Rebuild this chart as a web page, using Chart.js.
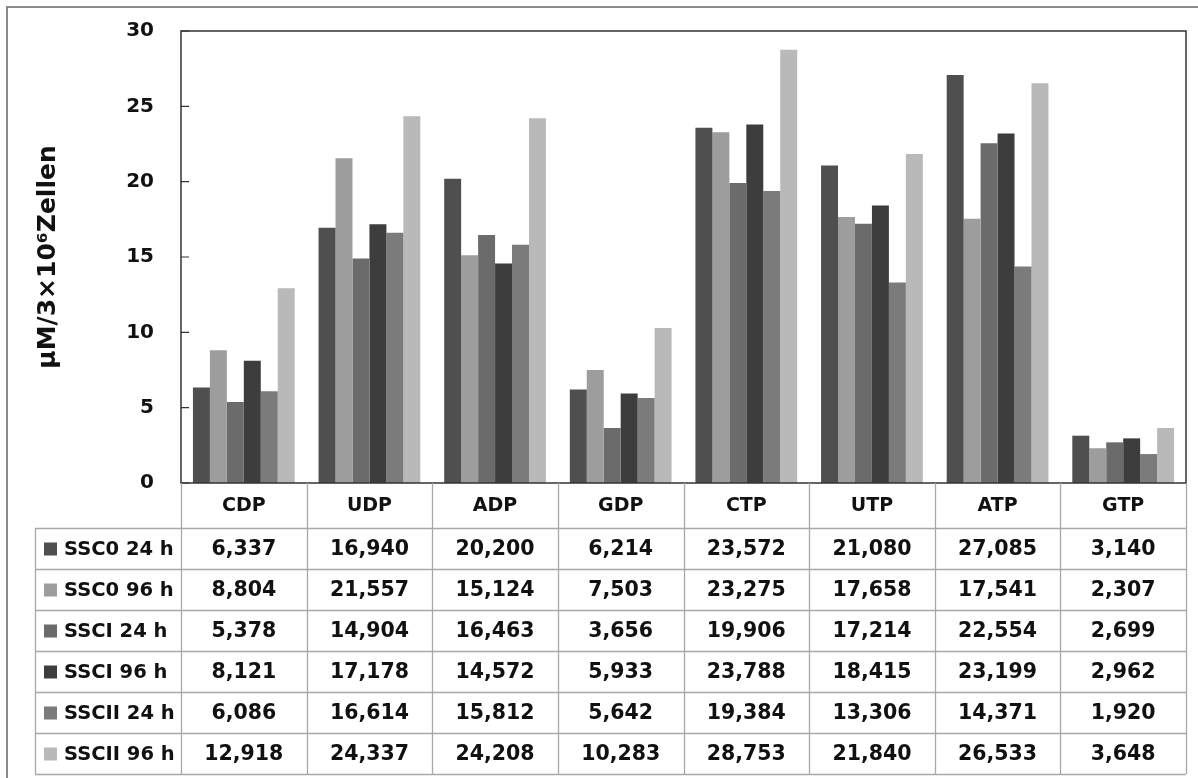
<!DOCTYPE html>
<html>
<head>
<meta charset="utf-8">
<script src="https://cdn.jsdelivr.net/npm/chart.js@4"></script>
<style>
  html, body { margin: 0; padding: 0; background: #fff; }
  #wrap { position: relative; width: 1198px; height: 778px; }
  canvas { display: block; }
</style>
</head>
<body>
<div id="wrap"><canvas id="c" width="1198" height="778"></canvas></div>
<script>
// Nucleotide categories
const categories = ['CDP', 'UDP', 'ADP', 'GDP', 'CTP', 'UTP', 'ATP', 'GTP'];

// Series names and values (µM per 3×10^6 cells)
const seriesNames = ['SSC0 24 h', 'SSC0 96 h', 'SSCI 24 h', 'SSCI 96 h', 'SSCII 24 h', 'SSCII 96 h'];
const ssc0_24h  = [6.337, 16.940, 20.200, 6.214, 23.572, 21.080, 27.085, 3.140];
const ssc0_96h  = [8.804, 21.557, 15.124, 7.503, 23.275, 17.658, 17.541, 2.307];
const ssci_24h  = [5.378, 14.904, 16.463, 3.656, 19.906, 17.214, 22.554, 2.699];
const ssci_96h  = [8.121, 17.178, 14.572, 5.933, 23.788, 18.415, 23.199, 2.962];
const sscii_24h = [6.086, 16.614, 15.812, 5.642, 19.384, 13.306, 14.371, 1.920];
const sscii_96h = [12.918, 24.337, 24.208, 10.283, 28.753, 21.840, 26.533, 3.648];
const seriesValues = [ssc0_24h, ssc0_96h, ssci_24h, ssci_96h, sscii_24h, sscii_96h];

// Y axis tick values
const yTicks = [0, 5, 10, 15, 20, 25, 30];

const seriesColors = ['#4f4f4f', '#9d9d9d', '#6b6b6b', '#3d3d3d', '#7b7b7b', '#b9b9b9'];

const FONT = "'DejaVu Sans', sans-serif";

function fmt(v) {
  return v.toFixed(3).replace('.', ',');
}

// Frame, inward ticks, outer border and the data table under the plot
const tablePlugin = {
  id: 'dataTable',
  afterDraw(chart) {
    const ctx = chart.ctx;
    const a = chart.chartArea;
    const xs = chart.scales.x;
    const ys = chart.scales.y;
    ctx.save();

    // outer border
    ctx.strokeStyle = '#8a8a8a';
    ctx.lineWidth = 2;
    ctx.beginPath();
    ctx.moveTo(7, 778);
    ctx.lineTo(7, 7);
    ctx.lineTo(1198, 7);
    ctx.stroke();

    // plot frame
    ctx.strokeStyle = '#333';
    ctx.lineWidth = 1.5;
    ctx.strokeRect(a.left, a.top, a.right - a.left, a.bottom - a.top);

    // inward tick marks
    ctx.lineWidth = 1.2;
    ctx.beginPath();
    yTicks.forEach(t => {
      const y = ys.getPixelForValue(t);
      ctx.moveTo(a.left, y);
      ctx.lineTo(a.left + 8, y);
    });
    ctx.stroke();

    // table grid
    const headerBottom = a.bottom + 45;
    const rowH = 41;
    const tableLeft = 35;
    const tableBottom = headerBottom + rowH * seriesNames.length;
    const colW = (a.right - a.left) / categories.length;

    ctx.strokeStyle = '#a8a8a8';
    ctx.lineWidth = 1.3;
    ctx.beginPath();
    for (let i = 0; i <= categories.length; i++) {
      const x = Math.round(a.left + colW * i) + 0.5;
      ctx.moveTo(x, a.bottom);
      ctx.lineTo(x, tableBottom);
    }
    ctx.moveTo(tableLeft + 0.5, headerBottom);
    ctx.lineTo(tableLeft + 0.5, tableBottom);
    for (let r = 0; r <= seriesNames.length; r++) {
      const y = Math.round(headerBottom + rowH * r) + 0.5;
      ctx.moveTo(tableLeft, y);
      ctx.lineTo(a.right, y);
    }
    ctx.stroke();

    // header labels
    ctx.fillStyle = '#111';
    ctx.font = 'bold 19px ' + FONT;
    ctx.textAlign = 'center';
    ctx.textBaseline = 'middle';
    categories.forEach((c, i) => {
      ctx.fillText(c, xs.getPixelForValue(i), a.bottom + 23);
    });

    // rows
    seriesNames.forEach((name, r) => {
      const yc = headerBottom + rowH * r + rowH / 2 + 1;
      ctx.fillStyle = seriesColors[r];
      ctx.fillRect(44, yc - 7, 13, 13);
      ctx.fillStyle = '#111';
      ctx.font = 'bold 19.5px ' + FONT;
      ctx.textAlign = 'left';
      ctx.fillText(name, 64, yc);
      ctx.font = 'bold 20.5px ' + FONT;
      ctx.textAlign = 'center';
      seriesValues[r].forEach((v, i) => {
        ctx.fillText(fmt(v), xs.getPixelForValue(i), yc);
      });
    });

    ctx.restore();
  }
};

new Chart(document.getElementById('c'), {
  type: 'bar',
  data: {
    labels: categories,
    datasets: seriesNames.map((n, i) => ({
      label: n,
      data: seriesValues[i],
      backgroundColor: seriesColors[i],
      borderWidth: 0,
      categoryPercentage: 0.81,
      barPercentage: 1.0
    }))
  },
  options: {
    responsive: false,
    animation: false,
    devicePixelRatio: 1,
    layout: { padding: { left: 0, top: 31, right: 12, bottom: 295 } },
    plugins: {
      legend: { display: false },
      tooltip: { enabled: false }
    },
    scales: {
      x: {
        display: false
      },
      y: {
        min: 0,
        max: 30,
        afterBuildTicks: (scale) => { scale.ticks = yTicks.map(v => ({ value: v })); },
        afterFit: (scale) => {
          scale.width = 181;
          scale.paddingTop = 0;
          scale.paddingBottom = 0;
        },
        grid: { display: false, drawTicks: false },
        border: { display: false },
        ticks: {
          padding: 27,
          color: '#111',
          font: { family: FONT, size: 20, weight: 'bold' }
        },
        title: {
          display: true,
          text: 'µM/3×10⁶Zellen',
          color: '#111',
          padding: { top: 33, bottom: 0 },
          font: { family: FONT, size: 25, weight: 'bold' }
        }
      }
    }
  },
  plugins: [tablePlugin]
});
</script>
</body>
</html>
